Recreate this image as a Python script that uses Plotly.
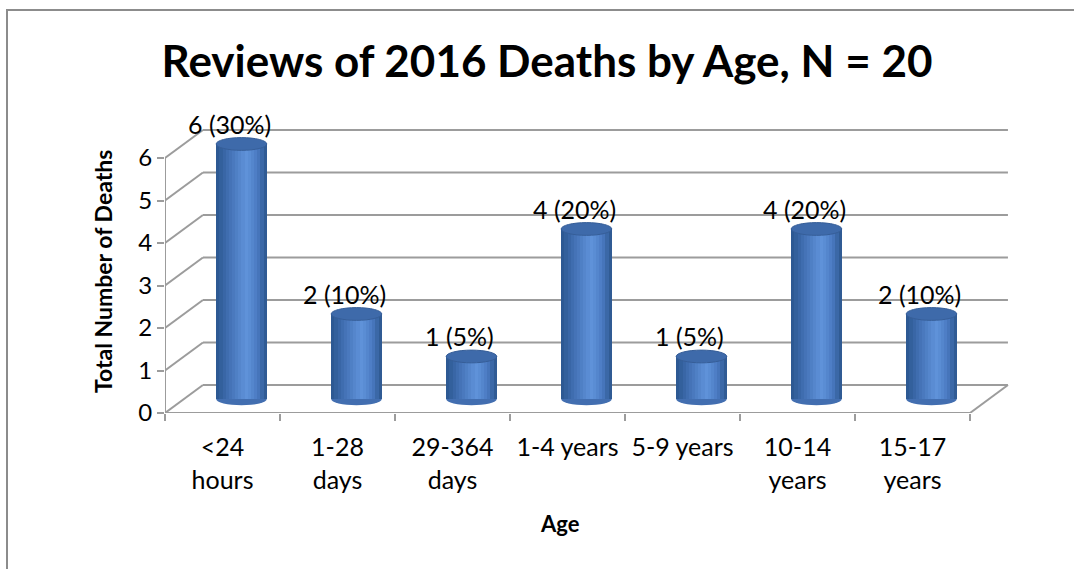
import plotly.graph_objects as go

# ---- data ----
categories = ["<24<br>hours", "1-28<br>days", "29-364<br>days", "1-4 years",
              "5-9 years", "10-14<br>years", "15-17<br>years"]
deaths = [6, 2, 1, 4, 1, 4, 2]
percents = [30, 10, 5, 20, 5, 20, 10]
y_ticks = [0, 1, 2, 3, 4, 5, 6]

title_text = "Reviews of 2016 Deaths by Age, N = 20"
x_title = "Age"
y_title = "Total Number of Deaths"

# ---- geometry / style ----
FONT = "Lato"
DX = 0.33      # depth offset in category units
DY = 0.66      # depth offset in value units
MID_X = DX / 2
MID_Y = DY / 2
BAR_W = 0.44
ELL_H = 0.15
GRID = "#9C9C9C"

x_idx = list(range(len(categories)))
x_centers = [i + MID_X for i in x_idx]
n = len(categories)
x_lo, x_hi = -0.5, n - 0.5

fig = go.Figure()

# gradient strips for the cylinder bodies
stops = [(0.0, (42, 86, 142)), (0.25, (66, 112, 180)), (0.6, (96, 147, 218)),
         (0.82, (74, 122, 194)), (1.0, (42, 84, 138))]


def col_at(t):
    for (t0, c0), (t1, c1) in zip(stops[:-1], stops[1:]):
        if t0 <= t <= t1:
            f = (t - t0) / (t1 - t0) if t1 > t0 else 0
            c = [round(a + (b - a) * f) for a, b in zip(c0, c1)]
            return "rgb(%d,%d,%d)" % tuple(c)
    return "rgb(%d,%d,%d)" % stops[-1][1]


N_STRIPS = 16
sw = BAR_W / N_STRIPS
for k in range(N_STRIPS):
    t = (k + 0.5) / N_STRIPS
    fig.add_trace(go.Bar(
        x=x_centers, y=deaths, base=MID_Y,
        width=sw * 1.15, offset=-BAR_W / 2 + k * sw,
        marker=dict(color=col_at(t), line=dict(width=0)),
        showlegend=False, hoverinfo="skip",
    ))

shapes = []
# back wall gridlines
for v in y_ticks:
    shapes.append(dict(type="line", xref="x", yref="y", layer="below",
                       x0=x_lo + DX, x1=x_hi + DX, y0=v + DY, y1=v + DY,
                       line=dict(color=GRID, width=2)))
    # left side wall
    shapes.append(dict(type="line", xref="x", yref="y", layer="below",
                       x0=x_lo, x1=x_lo + DX, y0=v, y1=v + DY,
                       line=dict(color=GRID, width=2)))
# front vertical axis line
shapes.append(dict(type="line", xref="x", yref="y", layer="below",
                   x0=x_lo, x1=x_lo, y0=y_ticks[0], y1=y_ticks[-1],
                   line=dict(color=GRID, width=2)))
# floor front edge and right edge
shapes.append(dict(type="line", xref="x", yref="y", layer="below",
                   x0=x_lo, x1=x_hi, y0=0, y1=0,
                   line=dict(color=GRID, width=2)))
shapes.append(dict(type="line", xref="x", yref="y", layer="below",
                   x0=x_hi, x1=x_hi + DX, y0=0, y1=DY,
                   line=dict(color=GRID, width=2)))

# cylinder bottoms and tops
for xc, v in zip(x_centers, deaths):
    shapes.append(dict(type="circle", xref="x", yref="y", layer="below",
                       x0=xc - BAR_W / 2, x1=xc + BAR_W / 2,
                       y0=MID_Y - ELL_H, y1=MID_Y + ELL_H,
                       fillcolor="rgb(66,110,176)", line=dict(width=0)))
    shapes.append(dict(type="circle", xref="x", yref="y", layer="above",
                       x0=xc - BAR_W / 2, x1=xc + BAR_W / 2,
                       y0=v + MID_Y - ELL_H, y1=v + MID_Y + ELL_H,
                       fillcolor="rgb(62,106,170)",
                       line=dict(color="rgb(54,94,152)", width=1)))

# outer chart border (cropped on right/bottom)
shapes.append(dict(type="rect", xref="paper", yref="paper", layer="below",
                   x0=(7 - 165) / 845, x1=(1100 - 165) / 845,
                   y0=(413 - 600) / 285, y1=(413 - 10) / 285,
                   line=dict(color="#8C8C8C", width=2), fillcolor="rgba(0,0,0,0)"))

annotations = []
for i, v, p in zip(x_idx, deaths, percents):
    annotations.append(dict(x=i + 0.06, y=v + MID_Y, xref="x", yref="y",
                            text=f"{v} ({p}%)", showarrow=False,
                            yanchor="middle", yshift=20,
                            font=dict(family=FONT, size=25, color="black")))
annotations.append(dict(x=(560 - 165) / 845, y=(413 - 523) / 285,
                        xref="paper", yref="paper", text=f"<b>{x_title}</b>",
                        showarrow=False, xanchor="center", yanchor="middle",
                        font=dict(family=FONT, size=22, color="black")))
annotations.append(dict(x=(103 - 165) / 845, y=(413 - 272) / 285,
                        xref="paper", yref="paper", text=f"<b>{y_title}</b>",
                        showarrow=False, textangle=-90,
                        xanchor="center", yanchor="middle",
                        font=dict(family=FONT, size=23, color="black")))

# invisible trace to activate the tick-mark axis
fig.add_trace(go.Scatter(x=[x_lo], y=[0], xaxis="x2", mode="markers",
                         marker=dict(opacity=0), showlegend=False,
                         hoverinfo="skip"))

x_range = [x_lo, x_lo + 845 / 115]
y_range = [0, 285 / 42.5]

fig.update_layout(
    width=1074, height=569,
    margin=dict(l=165, r=64, t=128, b=156),
    paper_bgcolor="white", plot_bgcolor="white",
    barmode="overlay", bargap=0,
    font=dict(family=FONT, color="black"),
    title=dict(text=f"<b>{title_text}</b>", x=547 / 1074, xref="container",
               xanchor="center", y=1 - 62 / 569, yref="container",
               yanchor="middle",
               font=dict(family=FONT, size=44, color="black")),
    xaxis=dict(range=x_range, tickmode="array", tickvals=x_idx,
               ticktext=categories, ticks="", showgrid=False, zeroline=False,
               showline=False, ticklabelstandoff=17,
               tickfont=dict(family=FONT, size=25, color="black")),
    xaxis2=dict(range=x_range, overlaying="x", side="bottom",
                tickmode="array", tickvals=[i - 0.5 for i in x_idx] + [x_hi],
                showticklabels=False, ticks="outside", ticklen=7,
                tickwidth=2, tickcolor=GRID, showgrid=False, zeroline=False,
                showline=False),
    yaxis=dict(range=y_range, tickmode="array", tickvals=y_ticks,
               ticks="outside", ticklen=7, tickwidth=2, tickcolor=GRID,
               showgrid=False, zeroline=False, showline=False,
               tickfont=dict(family=FONT, size=24, color="black")),
    shapes=shapes, annotations=annotations,
)

fig.write_html("out.html", config={"displayModeBar": False},
               post_script="document.body.style.margin='0px';")
